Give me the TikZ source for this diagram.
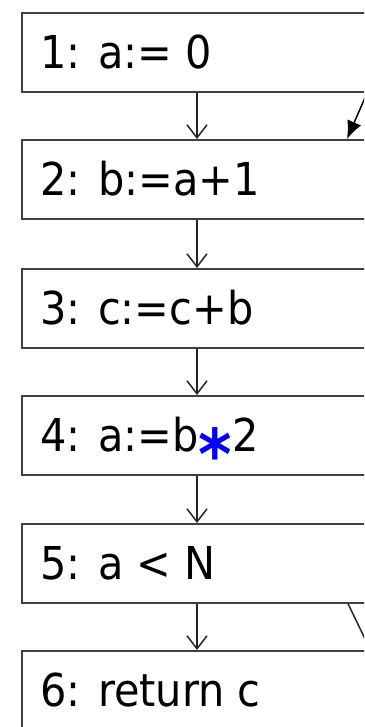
\documentclass[tikz,border=0pt]{standalone}
\usepackage{fontspec}
\setmainfont{DejaVu Sans}[FakeStretch=0.915]
\usetikzlibrary{arrows.meta,calc}
\begin{document}
\begin{tikzpicture}[x=1pt,y=-1pt,
 box/.style={draw=black!75, line width=1.7pt, rectangle, anchor=north west,
   minimum height=79pt, minimum width=480pt, inner sep=0pt},
 lbl/.style={anchor=base west, inner sep=0pt,
   font=\fontsize{45.3}{50}\selectfont},
 flow/.style={draw=black!85, line width=1.5pt,
   -{Straight Barb[length=13pt,width=20pt,line width=1.5pt]}},
 back/.style={draw=black, line width=1.5pt, -{Latex[length=18pt,width=15pt]}},
 plain/.style={draw=black!85, line width=1.5pt}]
\useasboundingbox (0,0) rectangle (364,727);
\fill[white] (0,0) rectangle (364,727);
\clip (0,0) rectangle (364,727);
\node[box] (n1) at (21,12) {};
\node[box] (n2) at (21,139) {};
\node[box] (n3) at (21,268) {};
\node[box] (n4) at (21,395) {};
\node[box] (n5) at (21,523) {};
\node[box] (n6) at (21,650) {};
\node[lbl] (t1) at ($(n1.west)+(19,16.5)$) {1: a:= 0};
\node[lbl] (t2) at ($(n2.west)+(19,16.5)$) {2: b:=a+1};
\node[lbl] (t3) at ($(n3.west)+(19,16.5)$) {3: c:=c+b};
\node[lbl] (t4) at ($(n4.west)+(19,16.5)$) {4: a:=b{\color{blue}\fontsize{70}{70}\selectfont\bfseries\raisebox{-28pt}{*}}2};
\node[lbl] (t5) at ($(n5.west)+(19,16.5)$) {5: a < N};
\node[lbl] (t6) at ($(n6.west)+(19,16.5)$) {6: return c};
\foreach \a/\b in {n1/n2,n2/n3,n3/n4,n4/n5,n5/n6}
  \draw[flow] ($(\a.south west)+(176,0)$) -- ($(\b.north west)+(176,0)$);
\coordinate (b2) at ($(n2.north west)+(326,0)$);
\draw[back] ($(b2)+(34,-78)$) -- (b2);
\coordinate (e5) at ($(n5.south west)+(327,0)$);
\draw[plain] (e5) -- ++(30,62);
\end{tikzpicture}
\end{document}
